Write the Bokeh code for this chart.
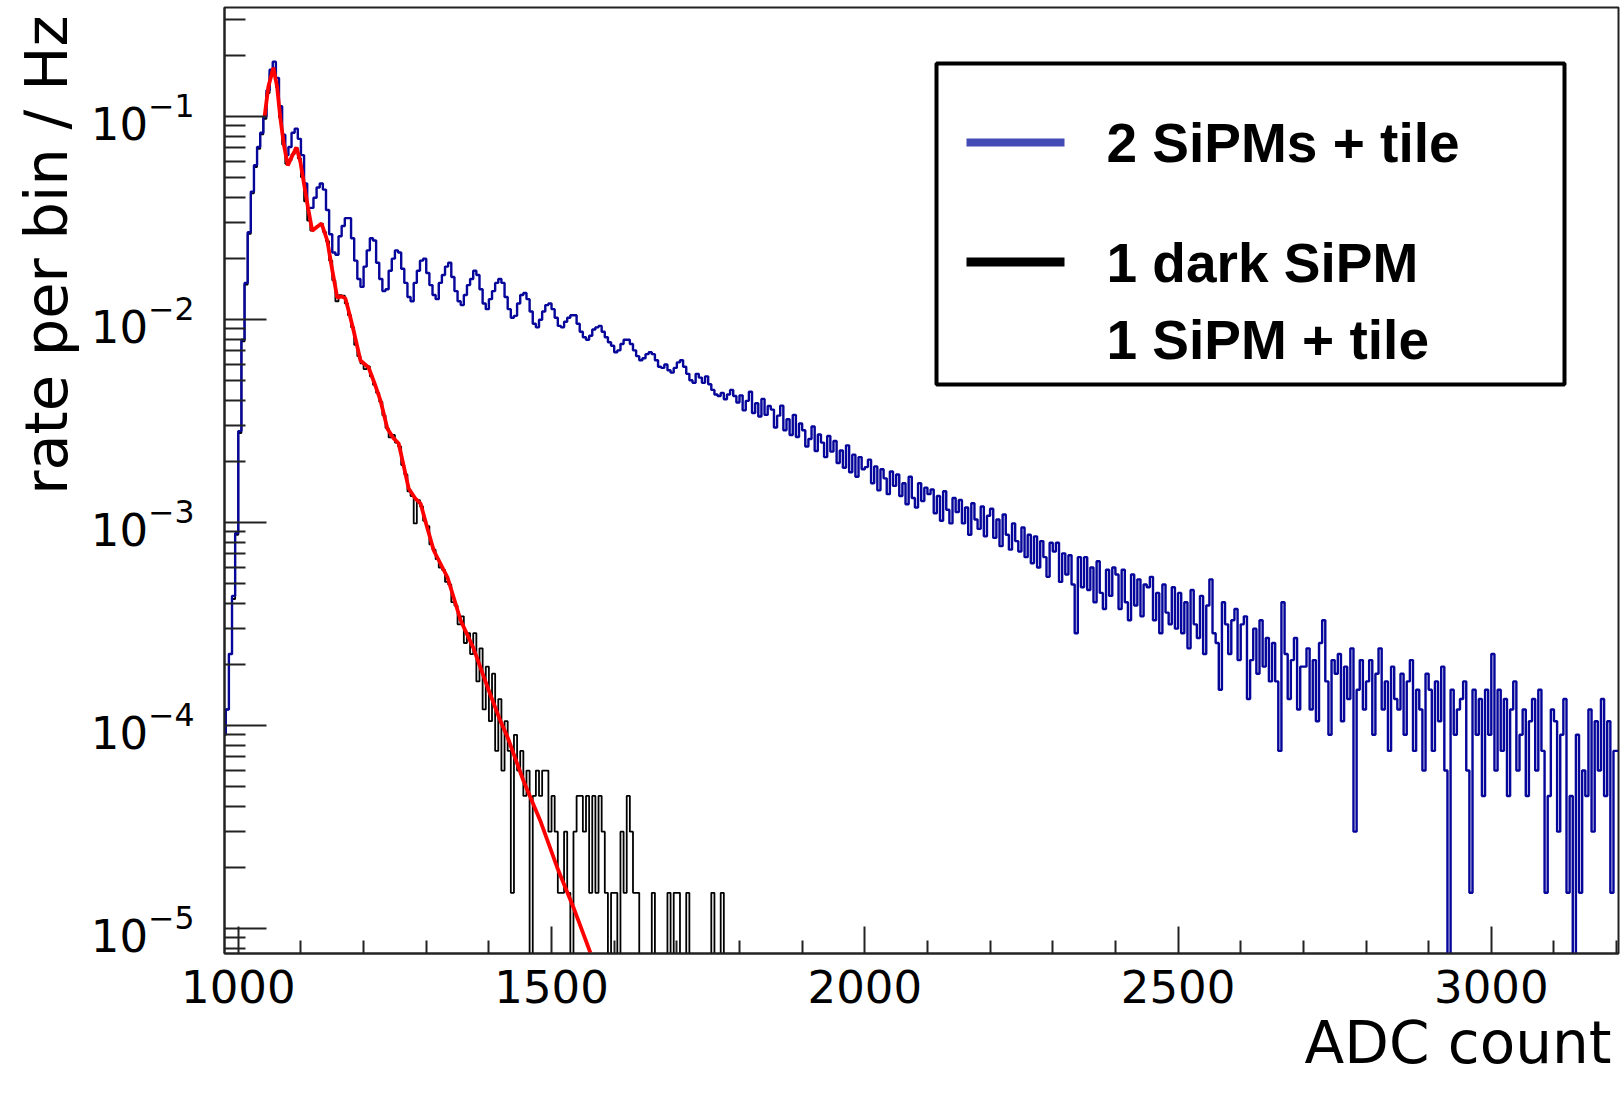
import numpy as np
from bokeh.plotting import figure
from bokeh.models import Range1d, FixedTicker, LogTickFormatter, Label, BoxAnnotation, Title
from bokeh.embed import file_html
from bokeh.resources import INLINE

# ---------------- data ----------------
BIN_START = 975          # ADC, left edge of first bin
BIN_WIDTH = 5            # ADC per bin
RATE_PER_COUNT = 1.5e-5  # Hz per entry (one entry level)

# "2 SiPMs + tile" histogram, entries per bin, bins from 975 ADC
blue_counts = [
    6, 8, 15, 29, 59, 188, 530, 1010, 1795, 2845,
    3835, 4720, 5545, 6670, 8990, 11330, 12420, 10330, 7490, 5420,
    4300, 4720, 5545, 5810, 5175, 4300, 3120, 2365, 2365, 2655,
    2980, 3120, 2910, 2310, 1755, 1425, 1390, 1715, 1925, 2105,
    2105, 1675, 1300, 1055, 965, 1215, 1460, 1675, 1635, 1270,
    1055, 920, 940, 1160, 1330, 1460, 1425, 1185, 1010, 860,
    820, 1010, 1160, 1300, 1330, 1130, 985, 880, 840, 1010,
    1105, 1215, 1270, 1080, 920, 820, 785, 880, 985, 1055,
    1160, 1105, 940, 800, 750, 840, 920, 1010, 1055, 1010,
    860, 750, 680, 695, 800, 880, 900, 840, 730, 635,
    610, 665, 730, 785, 800, 750, 680, 620, 610, 650,
    680, 700, 700, 635, 580, 545, 530, 555, 595, 610,
    620, 580, 545, 515, 495, 460, 470, 505, 530, 530,
    505, 470, 440, 420, 430, 450, 460, 450, 420, 390,
    385, 400, 375, 365, 385, 410, 420, 390, 360, 335,
    325, 360, 345, 325, 350, 320, 300, 285, 280, 290,
    270, 285, 300, 280, 260,
    282, 238, 265, 294, 231, 258, 222, 271, 226, 250,
    240, 196, 224, 251, 190, 215, 180, 226, 176, 205,
    190, 158, 172, 198, 150, 181, 165, 140, 178, 149,
    168, 131, 151, 124, 160, 118, 144, 112, 140, 122,
    125, 136, 104, 126, 96, 122, 110, 92, 119, 101,
    115, 90, 104, 82, 112, 88, 79, 104, 85, 99,
    92, 97, 74, 90, 68, 95, 77, 66, 88, 75,
    86, 66, 79, 58, 83, 69, 62, 80, 57, 72,
    78, 56, 69, 51, 73, 58, 49, 66, 54, 48,
    63, 45, 58, 42, 57, 40, 54, 45, 36, 53,
    48, 53, 34, 47, 37, 46, 33, 19, 45, 32,
    45, 31, 40, 27, 43, 30, 25, 39, 29, 40,
    37, 25, 39, 27, 22, 37, 26, 35, 23, 33,
    32, 36, 22, 30, 19, 33, 24, 21, 32, 20,
    30, 19, 27, 16, 31, 21, 18, 29, 15, 26,
    35, 19, 17, 10, 27, 21, 15, 22, 25, 14,
    21, 23, 9, 14, 20, 12, 22, 13, 18, 11,
    17, 11, 5, 27, 15, 9, 14, 18, 8, 13,
    13, 16, 8, 14, 7, 17, 22, 11, 6, 14,
    12, 15, 7, 13, 9, 16, 2, 10, 14, 8,
    11, 14, 6, 12, 16, 8, 11, 5, 13, 9,
    8, 12, 6, 11, 14, 5, 10, 8, 4, 12,
    10, 5, 11, 7, 13, 4, 0, 10, 6, 8,
    9, 11, 4, 1, 10, 6, 9, 3, 10, 6,
    15, 4, 10, 5, 9, 3, 8, 11, 4, 6,
    8, 3, 7, 9, 4, 10, 5, 1, 3, 8,
    7, 2, 6, 9, 1, 3, 0, 6, 1, 4,
    3, 8, 2, 7, 4, 9, 3, 7, 1, 5,
    5,
]

# "1 dark SiPM / 1 SiPM + tile" histogram, entries per bin, bins from 975 ADC
black_counts = [
    6, 8, 15, 28, 58, 184, 520, 990, 1760, 2790,
    3760, 4620, 5440, 6500, 8700, 10900, 11500, 9300, 6600, 4850,
    3900, 4050, 4350, 4650, 4150, 3350, 2550, 2050, 1830, 1880,
    1930, 1980, 1800, 1620, 1300, 1040, 820, 880, 875, 800,
    700, 610, 500, 440, 405, 380, 392, 350, 318, 290,
    262, 225, 195, 175, 180, 165, 158, 128, 115, 95,
    90, 66, 86, 80, 68, 64, 52, 49, 44, 40,
    39, 34, 33, 27, 26, 21, 23, 17, 19, 15,
    19, 11, 16, 8, 13, 7, 12, 5, 9, 4,
    7, 5, 1, 6, 4, 5, 3, 4, 0, 3,
    4, 3, 4, 4, 2, 3, 2, 1, 1, 2,
    1, 0, 2, 3, 3, 2, 3, 1, 3, 1,
    3, 2, 1, 0, 1, 1, 0, 2, 1, 3,
    2, 1, 1, 0, 0, 0, 0, 1, 0, 0,
    0, 0, 1, 0, 1, 1, 0, 0, 1, 0,
    0, 0, 0, 0, 0, 0, 1, 0, 0, 1,
    0, 0, 0, 0, 0,
]

# fit function to the single-SiPM spectrum (red)
fit_adc = [1042, 1048, 1056, 1062, 1067, 1073, 1079, 1086, 1093, 1099,
           1104, 1111, 1118, 1125, 1133, 1142, 1150, 1158, 1165, 1171,
           1178, 1184, 1195, 1208, 1218, 1227, 1238, 1247, 1256, 1264,
           1272, 1282, 1291, 1300, 1312, 1334, 1355, 1375, 1398, 1418,
           1430, 1455, 1482, 1509, 1535, 1562]
fit_rate = [0.100, 0.140, 0.174, 0.140, 0.0989, 0.072, 0.0574, 0.064, 0.0704, 0.060,
            0.0484, 0.036, 0.0274, 0.0285, 0.0297, 0.0245, 0.0175, 0.0128, 0.0130, 0.0127,
            0.0105, 0.00883, 0.00628, 0.0058, 0.0048, 0.00399, 0.0029, 0.00262, 0.00245, 0.0019,
            0.00147, 0.00132, 0.00124, 0.00098, 7.28e-4, 5.36e-4, 3.29e-4, 2.42e-4, 1.54e-4, 1.06e-4,
            8.73e-5, 5.36e-5, 3.4e-5, 2.0e-5, 1.27e-5, 7.6e-6]

x_major_ticks = [1000, 1500, 2000, 2500, 3000]
x_minor_ticks = [1100, 1200, 1300, 1400, 1600, 1700, 1800, 1900,
                 2100, 2200, 2300, 2400, 2600, 2700, 2800, 2900, 3100, 3200]
y_major_ticks = [1e-5, 1e-4, 1e-3, 1e-2, 1e-1]
y_minor_ticks = [m * 10.0 ** e for e in range(-6, 0) for m in range(2, 10)]

legend_labels = ["2 SiPMs + tile", "1 dark SiPM", "1 SiPM + tile"]
x_label = "ADC count"
y_label = "rate per bin / Hz"

BLUE = "#06069a"
BLUE_SWATCH = "#424ab4"


def centers(counts):
    return BIN_START + BIN_WIDTH * (np.arange(len(counts)) + 0.5)


def rates(counts):
    c = np.asarray(counts, dtype=float)
    # empty bins fall below the frame, as in the original
    return np.where(c > 0, c * RATE_PER_COUNT, 1e-9)


# ---------------- figure ----------------
p = figure(width=1621, height=1093, y_axis_type="log", title=None,
           x_range=Range1d(978, 3203), y_range=Range1d(10 ** -5.123, 10 ** -0.463),
           output_backend="svg", toolbar_location=None, tools="")
p.min_border_left = 224
p.min_border_right = 3
p.min_border_top = 7
p.min_border_bottom = 140
p.outline_line_color = "#222222"
p.outline_line_width = 2
p.xgrid.visible = False
p.ygrid.visible = False
p.background_fill_color = "white"
p.border_fill_color = "white"

p.step(centers(black_counts), rates(black_counts), mode="center",
       line_color="black", line_width=1.8)
p.step(centers(blue_counts), rates(blue_counts), mode="center",
       line_color=BLUE, line_width=2.4)
p.line(fit_adc, fit_rate, line_color="#ff0000", line_width=3.8)

xa = p.xaxis[0]
ya = p.yaxis[0]
xa.ticker = FixedTicker(ticks=x_major_ticks, minor_ticks=x_minor_ticks)
ya.ticker = FixedTicker(ticks=y_major_ticks, minor_ticks=y_minor_ticks)
ya.formatter = LogTickFormatter()
for ax in (xa, ya):
    ax.axis_line_color = "#222222"
    ax.axis_line_width = 2
    ax.major_tick_out = 0
    ax.minor_tick_out = 0
    ax.major_tick_line_color = "#222222"
    ax.major_tick_line_width = 2
    ax.minor_tick_line_color = "#222222"
    ax.minor_tick_line_width = 2
    ax.major_label_text_font = "DejaVu Sans"
    ax.major_label_text_font_size = "45px"
    ax.major_label_text_color = "black"
xa.major_tick_in = 27
xa.minor_tick_in = 13
ya.major_tick_in = 42
ya.minor_tick_in = 21
xa.major_label_standoff = 16
ya.major_label_standoff = 30

# axis titles, ROOT style: flush with the right / top end of the axis
p.add_layout(Title(text=x_label, align="right", offset=7, standoff=3,
                   text_font="DejaVu Sans", text_font_size="58px",
                   text_font_style="normal", text_color="black"), "below")
p.add_layout(Title(text=y_label, align="right", offset=8, standoff=13,
                   text_font="DejaVu Sans", text_font_size="59px",
                   text_font_style="normal", text_color="black"), "left")

# ---------------- legend (frame-relative screen coordinates) ----------------
FRAME_LEFT, FRAME_BOTTOM = 224, 953


def sx(x):
    return x - FRAME_LEFT


def sy(y):
    return FRAME_BOTTOM - y


def screen_box(l, r, t, b, **kw):
    return BoxAnnotation(left=sx(l), right=sx(r), top=sy(t), bottom=sy(b),
                         left_units="screen", right_units="screen",
                         top_units="screen", bottom_units="screen",
                         level="overlay", **kw)


p.add_layout(screen_box(936, 1564, 63, 384, fill_color="white", fill_alpha=1.0,
                        line_color="black", line_alpha=1.0, line_width=4))
p.add_layout(screen_box(966, 1064, 138, 146, fill_color=BLUE_SWATCH, fill_alpha=1.0,
                        line_alpha=0))
p.add_layout(screen_box(966, 1064, 257, 266, fill_color="black", fill_alpha=1.0,
                        line_alpha=0))

for text, yc in zip(legend_labels, [142, 262, 339]):
    p.add_layout(Label(x=sx(1106), y=sy(yc), x_units="screen", y_units="screen",
                       text=text, text_font="Liberation Sans", text_font_style="bold",
                       text_font_size="55px", text_color="black",
                       text_baseline="middle", text_align="left", level="overlay"))

open("out.html", "w").write(file_html(p, INLINE))
